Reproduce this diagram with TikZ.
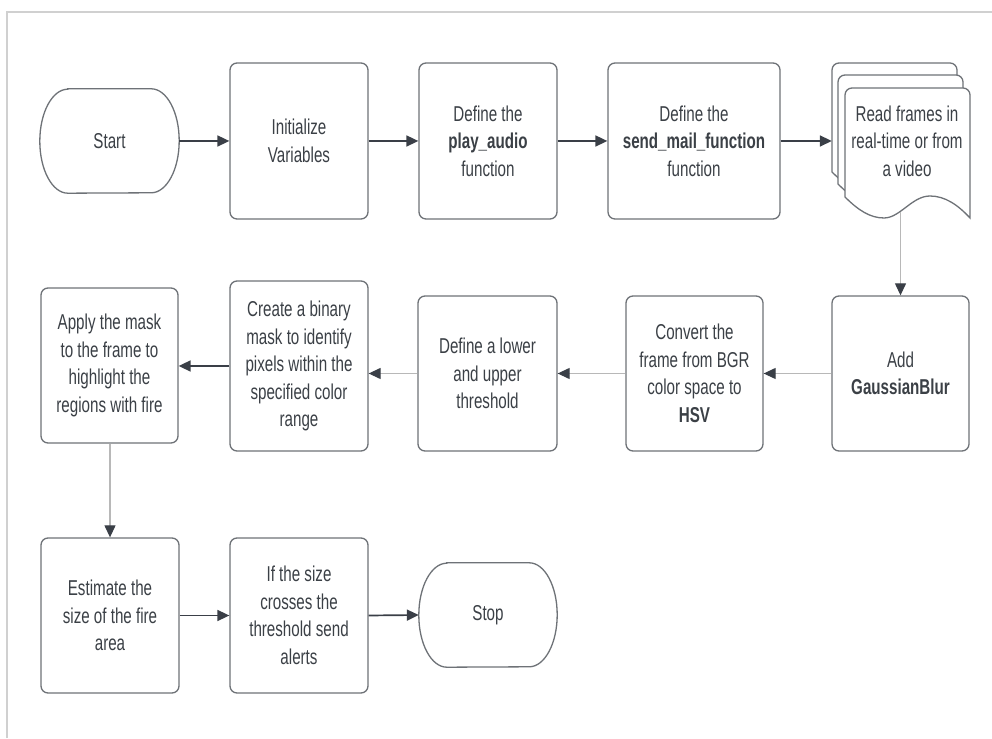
\documentclass[tikz,border=0pt]{standalone}
\usepackage{fontspec}
\setmainfont[FakeStretch=0.705]{Liberation Sans}
\usetikzlibrary{arrows.meta,calc}
\definecolor{boxline}{HTML}{6E7277}
\definecolor{txt}{HTML}{3B4046}
\definecolor{darkarr}{HTML}{3A3F47}
\definecolor{lightarr}{HTML}{B8B8B8}
\definecolor{framecol}{HTML}{D0D0D0}
\begin{document}
\begin{tikzpicture}[x=1pt,y=1pt,
  lbl/.style={align=center, text=txt, font=\fontsize{21.5}{27.5}\selectfont, inner sep=0pt},
  box/.style={lbl, draw=boxline, line width=1.3pt, rounded corners=7pt, fill=white, minimum width=138pt, minimum height=155pt},
  term/.style={lbl, minimum width=139pt, minimum height=104pt},
  termline/.style={draw=boxline, line width=1.3pt, fill=white},
  pageline/.style={draw=boxline, line width=1.3pt, fill=white},
  darr/.style={draw=darkarr, line width=1.7pt, -{Triangle[length=12pt,width=11pt]}},
  larr/.style={draw=lightarr, line width=1.2pt, -{Triangle[length=12pt,width=11pt,color=darkarr]}},
]
\useasboundingbox (0,0) rectangle (992,738);
% partial frame
\draw[framecol, line width=1.2pt] (7,0) -- (7,726) -- (992,726);

% ---- row 1 ----
\node[term] (start) at (109.5,597) {};
\draw[termline] ([xshift=28]start.north west) -- ([xshift=-28]start.north east)
  arc[start angle=90, end angle=-90, x radius=28, y radius=52]
  -- ([xshift=28]start.south west)
  arc[start angle=270, end angle=90, x radius=28, y radius=52] -- cycle;
\node[lbl] at (start) {Start};

\node[box, minimum height=156pt] (init) at (299,597) {Initialize\\Variables};
\node[box, minimum height=156pt] (play) at (488,597) {Define the\\\textbf{play\_audio}\\function};
\node[box, minimum width=172pt, minimum height=156pt] (send) at (694,597) {Define the\\\textbf{send\_mail\_function}\\function};

% document stack
\foreach \dx/\dy in {-13/25, -7/13, 0/0} {
  \draw[pageline, shift={(\dx,\dy)}] (845,541) -- (845,643)
    arc[start angle=180, end angle=90, radius=7] -- (963,650)
    arc[start angle=90, end angle=0, radius=7] -- (970,520)
    .. controls (958,533) and (945,542) .. (930,542)
    .. controls (912,542) and (900,520) .. (884,520)
    .. controls (870,520) and (858,528) .. (845,541) -- cycle;
}
\node[minimum width=138pt, minimum height=155pt, inner sep=0pt] (doc) at (901,597.5) {};
\node[lbl] (doctext) at (907,597) {Read frames in\\real-time or from\\a video};
\coordinate (docb) at (900.5,526);

% ---- row 2 ----
\node[box, minimum width=137pt] (gauss) at (900.5,364.5) {Add\\\textbf{GaussianBlur}};
\node[box, minimum width=137pt] (conv) at (694.5,364.5) {Convert the\\frame from BGR\\color space to\\\textbf{HSV}};
\node[box, minimum width=139pt] (lower) at (487.5,364.5) {Define a lower\\and upper\\threshold};
\node[box, minimum height=170pt] (create) at (299,372) {Create a binary\\mask to identify\\pixels within the\\specified color\\range};
\node[box, minimum width=137pt] (apply) at (109.5,372.5) {Apply the mask\\to the frame to\\highlight the\\regions with fire};

% ---- row 3 ----
\node[box] (est) at (110,122.5) {Estimate the\\size of the fire\\area};
\node[box] (iff) at (299,122.5) {If the size\\crosses the\\threshold send\\alerts};
\node[term, minimum width=138pt] (stop) at (488,123) {};
\draw[termline] ([xshift=28]stop.north west) -- ([xshift=-28]stop.north east)
  arc[start angle=90, end angle=-90, x radius=28, y radius=52]
  -- ([xshift=28]stop.south west)
  arc[start angle=270, end angle=90, x radius=28, y radius=52] -- cycle;
\node[lbl] at (stop) {Stop};

% ---- connectors ----
\draw[darr] (start.east) -- (init.west);
\draw[darr] (init.east) -- (play.west);
\draw[darr] (play.east) -- (send.west);
\draw[darr] (send.east) -- (send.east -| doc.west);
\draw[larr] (docb) -- (gauss.north);
\draw[larr] (gauss.west) -- (conv.east);
\draw[larr] (conv.west) -- (lower.east);
\draw[larr] (lower.west) -- (lower.west -| create.east);
\draw[darr] (create.west) -- (create.west -| apply.east);
\draw[larr] (apply.south -| est.north) -- (est.north);
\draw[darr] (est.east) -- (iff.west);
\draw[darr] (iff.east) -- (stop.west);
\end{tikzpicture}
\end{document}
